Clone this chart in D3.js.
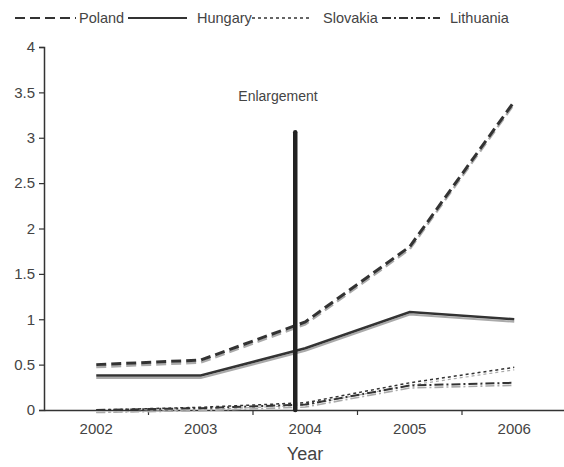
<!DOCTYPE html>
<html><head><meta charset="utf-8">
<script src="https://cdn.jsdelivr.net/npm/d3@7"></script>
<style>body{margin:0;background:#fff}svg{display:block;font-family:"Liberation Sans",Arial,sans-serif}</style>
</head><body><svg id="c" width="564" height="467"></svg>
<script>
const years = ["2002","2003","2004","2005","2006"];
const poland = [0.50, 0.55, 0.97, 1.80, 3.40];
const hungary = [0.38, 0.38, 0.68, 1.08, 1.00];
const slovakia = [0.00, 0.03, 0.08, 0.30, 0.47];
const lithuania = [0.00, 0.02, 0.06, 0.27, 0.30];
const yTicks = [0, 0.5, 1, 1.5, 2, 2.5, 3, 3.5, 4];
const enlargementYear = "2004";
const enlargementTop = 3.06;

const series = [
  {name:"Poland", values:poland, dash:"10,5", w:3},
  {name:"Hungary", values:hungary, dash:null, w:2.5},
  {name:"Slovakia", values:slovakia, dash:"3,3", w:1.5},
  {name:"Lithuania", values:lithuania, dash:"9,3,2,3", w:2}
];

const svg = d3.select("#c");
const mL = 44, mR = 566.5, mT = 47, mB = 410;
const x = d3.scaleBand().domain(years).range([mL, mR]).padding(0);
const y = d3.scaleLinear().domain([0, 4]).range([mB, mT]);
const ink = "#333";

// y axis
const ya = svg.append("g").attr("transform", `translate(${mL},0)`)
  .call(d3.axisLeft(y).tickValues(yTicks).tickSize(5).tickPadding(4).tickFormat(d3.format("~g")));
ya.select(".domain").attr("stroke", ink).attr("stroke-width", 1.5);
ya.selectAll(".tick line").attr("stroke", ink).attr("stroke-width", 1.2);
ya.selectAll("text").attr("font-size", 15).attr("fill", "#444");

// x axis
const xa = svg.append("g").attr("transform", `translate(0,${mB})`)
  .call(d3.axisBottom(x).tickSize(0).tickPadding(13));
xa.select(".domain").attr("stroke", ink).attr("stroke-width", 1.5);
xa.selectAll("text").attr("font-size", 15).attr("fill", "#444");
xa.selectAll(".bnd").data(years.slice(1)).enter().append("line")
  .attr("x1", d => x(d)).attr("x2", d => x(d)).attr("y1", 0).attr("y2", 5)
  .attr("stroke", ink).attr("stroke-width", 1.2);

svg.append("text").attr("x", 305).attr("y", 460).attr("text-anchor", "middle")
  .attr("font-size", 18).attr("fill", "#444").text("Year");

const line = d3.line().x((d, i) => x(years[i]) + x.bandwidth() / 2).y(d => y(d));

// shadow copies (scan effect)
series.forEach(s => {
  svg.append("path").datum(s.values).attr("d", line).attr("fill", "none")
    .attr("stroke", "#aaa").attr("stroke-width", s.w * 0.8)
    .attr("stroke-dasharray", s.dash).attr("transform", "translate(0,2.5)");
});
series.forEach(s => {
  svg.append("path").datum(s.values).attr("d", line).attr("fill", "none")
    .attr("stroke", ink).attr("stroke-width", s.w)
    .attr("stroke-dasharray", s.dash);
});

// enlargement line
const ex = x(enlargementYear) + x.bandwidth() / 2 - 10;
svg.append("line").attr("x1", ex).attr("x2", ex).attr("y1", y(enlargementTop)).attr("y2", mB)
  .attr("stroke", "#222").attr("stroke-width", 4.5).attr("stroke-linecap", "round");
svg.append("text").attr("x", 278).attr("y", 101).attr("text-anchor", "middle")
  .attr("font-size", 14).attr("fill", "#444").text("Enlargement");

// legend
const legend = [
  {s:series[0], x1:15, x2:76, tx:79},
  {s:series[1], x1:128, x2:187, tx:197},
  {s:series[2], x1:252, x2:312, tx:323},
  {s:series[3], x1:382, x2:440, tx:450}
];
legend.forEach(l => {
  svg.append("line").attr("x1", l.x1).attr("x2", l.x2).attr("y1", 18).attr("y2", 18)
    .attr("stroke", ink).attr("stroke-width", Math.min(l.s.w, 2)).attr("stroke-dasharray", l.s.dash);
  svg.append("text").attr("x", l.tx).attr("y", 23).attr("font-size", 14.5).attr("fill", "#444").text(l.s.name);
});
</script></body></html>
